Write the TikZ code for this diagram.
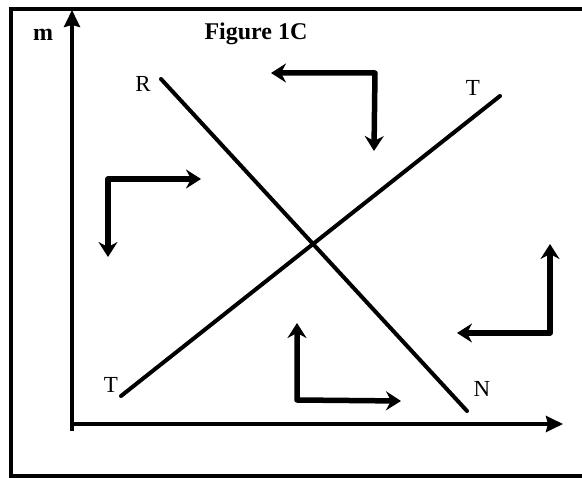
\documentclass[tikz,border=0pt]{standalone}
\usepackage{fontspec}
\setmainfont{Liberation Serif}
\usetikzlibrary{arrows.meta}
\begin{document}
\begin{tikzpicture}[x=1pt,y=-1pt,
  frame/.style={line width=4pt},
  axis/.style={line width=4.5pt,-{Stealth[length=17pt,width=16pt,inset=2pt]}},
  curve/.style={line width=4pt,line cap=round},
  bent/.style={line width=5.5pt,line join=round,
    {Stealth[length=15pt,width=19pt,inset=5pt]}-{Stealth[length=15pt,width=19pt,inset=5pt]}},
  lab/.style={font=\fontsize{23}{23}\selectfont,inner sep=0pt}]
\useasboundingbox (0,0) rectangle (582,478);
% frame
\draw[frame] (590,9) -- (11,9) -- (11,476) -- (590,476);
% axes
\coordinate (o) at (72,424);
\coordinate (ybot) at (72,431);
\coordinate (ytop) at (72,10);
\coordinate (xleft) at (70,424);
\coordinate (xright) at (563,424);
\draw[axis] (ybot) -- (ytop);
\draw[axis] (xleft) -- (xright);
% labels
\node[font=\bfseries\fontsize{24}{24}\selectfont,inner sep=0pt] (m) at (43,35) {m};
\node[font=\bfseries\fontsize{24}{24}\selectfont,inner sep=0pt] (fig) at (256,34) {Figure 1C};
% lines
\coordinate (r1) at (161,79);
\coordinate (r2) at (467,411);
\coordinate (t1) at (121,396);
\coordinate (t2) at (500,96);
\draw[curve] (r1) -- (r2);
\draw[curve] (t1) -- (t2);
\node[lab] (R) at (143,84) {R};
\node[lab] (Ttop) at (473,88) {T};
\node[lab] (Tbot) at (111,385) {T};
\node[lab] (N) at (482,389) {N};
% bent arrows
\coordinate (a1l) at (271,73);
\coordinate (a1c) at (375,73);
\coordinate (a1d) at (374,151);
\draw[bent] (a1l) -- (a1c) -- (a1d);
\coordinate (a2r) at (201,179);
\coordinate (a2c) at (108,179);
\coordinate (a2d) at (108,257);
\draw[bent] (a2r) -- (a2c) -- (a2d);
\coordinate (a3u) at (550,244);
\coordinate (a3c) at (550,333);
\coordinate (a3l) at (457,333);
\draw[bent] (a3u) -- (a3c) -- (a3l);
\coordinate (a4u) at (297,323);
\coordinate (a4c) at (297,400);
\coordinate (a4r) at (401,401);
\draw[bent] (a4u) -- (a4c) -- (a4r);
\end{tikzpicture}
\end{document}
